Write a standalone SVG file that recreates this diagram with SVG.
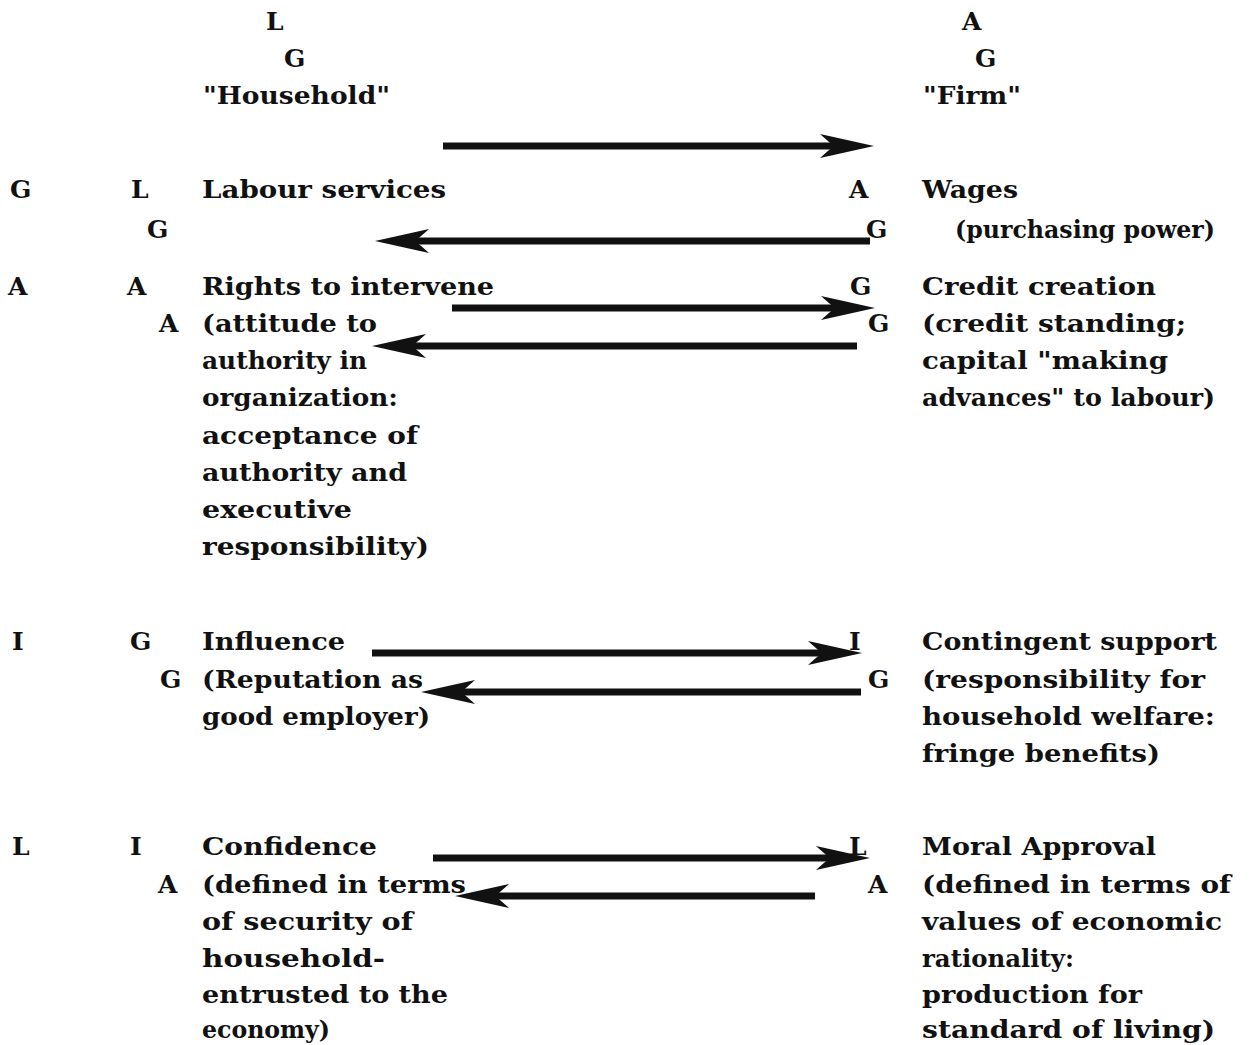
<svg xmlns="http://www.w3.org/2000/svg" width="1249" height="1045" viewBox="0 0 1249 1045">
<style>
text{font-family:"DejaVu Serif","Liberation Serif",serif;font-size:25px;font-weight:bold;fill:#111}
.ar{stroke:#111;stroke-width:7;fill:none;marker-end:url(#head)}
</style>
<defs>
<marker id="head" markerUnits="userSpaceOnUse" viewBox="-25 -15 65 30" markerWidth="65" markerHeight="30" refX="0" refY="0" orient="auto" overflow="visible">
<path d="M34,0 L-20,-12 Q-10,-3 -6,0 Q-10,3 -20,12 Z" fill="#111"/>
</marker>
</defs>
<rect width="1249" height="1045" fill="#fff"/>
<g id="household">
<text x="266" y="30">L</text>
<text x="284" y="67">G</text>
<text x="203" y="104" textLength="187" lengthAdjust="spacingAndGlyphs">"Household"</text>
</g>
<g id="firm">
<text x="962" y="30">A</text>
<text x="975" y="67">G</text>
<text x="923" y="104" textLength="98" lengthAdjust="spacingAndGlyphs">"Firm"</text>
</g>
<g id="row-labour">
<text x="10" y="198">G</text>
<text x="131" y="198">L</text>
<text x="147" y="238">G</text>
<text x="202" y="198" textLength="244" lengthAdjust="spacingAndGlyphs">Labour services</text>
</g>
<g id="row-wages">
<text x="849" y="198">A</text>
<text x="866" y="238">G</text>
<text x="922" y="198" textLength="96" lengthAdjust="spacingAndGlyphs">Wages</text>
<text x="955" y="238" textLength="260" lengthAdjust="spacingAndGlyphs">(purchasing power)</text>
</g>
<g id="row-rights">
<text x="8" y="295">A</text>
<text x="127" y="295">A</text>
<text x="159" y="332">A</text>
<text x="202" y="295" textLength="292" lengthAdjust="spacingAndGlyphs">Rights to intervene</text>
<text x="202" y="332" textLength="175" lengthAdjust="spacingAndGlyphs">(attitude to</text>
<text x="202" y="369" textLength="165" lengthAdjust="spacingAndGlyphs">authority in</text>
<text x="202" y="406" textLength="196" lengthAdjust="spacingAndGlyphs">organization:</text>
<text x="202" y="444" textLength="216" lengthAdjust="spacingAndGlyphs">acceptance of</text>
<text x="202" y="481" textLength="205" lengthAdjust="spacingAndGlyphs">authority and</text>
<text x="202" y="518" textLength="150" lengthAdjust="spacingAndGlyphs">executive</text>
<text x="202" y="555" textLength="227" lengthAdjust="spacingAndGlyphs">responsibility)</text>
</g>
<g id="row-credit">
<text x="850" y="295">G</text>
<text x="868" y="332">G</text>
<text x="922" y="295" textLength="234" lengthAdjust="spacingAndGlyphs">Credit creation</text>
<text x="922" y="332" textLength="264" lengthAdjust="spacingAndGlyphs">(credit standing;</text>
<text x="922" y="369" textLength="246" lengthAdjust="spacingAndGlyphs">capital "making</text>
<text x="922" y="406" textLength="293" lengthAdjust="spacingAndGlyphs">advances" to labour)</text>
</g>
<g id="row-influence">
<text x="12" y="650">I</text>
<text x="130" y="650">G</text>
<text x="160" y="688">G</text>
<text x="202" y="650" textLength="143" lengthAdjust="spacingAndGlyphs">Influence</text>
<text x="202" y="688" textLength="221" lengthAdjust="spacingAndGlyphs">(Reputation as</text>
<text x="202" y="725" textLength="228" lengthAdjust="spacingAndGlyphs">good employer)</text>
</g>
<g id="row-support">
<text x="849" y="650">I</text>
<text x="868" y="688">G</text>
<text x="922" y="650" textLength="295" lengthAdjust="spacingAndGlyphs">Contingent support</text>
<text x="922" y="688" textLength="283" lengthAdjust="spacingAndGlyphs">(responsibility for</text>
<text x="922" y="725" textLength="293" lengthAdjust="spacingAndGlyphs">household welfare:</text>
<text x="922" y="762" textLength="238" lengthAdjust="spacingAndGlyphs">fringe benefits)</text>
</g>
<g id="row-confidence">
<text x="12" y="855">L</text>
<text x="130" y="855">I</text>
<text x="158" y="893">A</text>
<text x="202" y="855" textLength="175" lengthAdjust="spacingAndGlyphs">Confidence</text>
<text x="202" y="893" textLength="264" lengthAdjust="spacingAndGlyphs">(defined in terms</text>
<text x="202" y="930" textLength="211" lengthAdjust="spacingAndGlyphs">of security of</text>
<text x="202" y="967" textLength="183" lengthAdjust="spacingAndGlyphs">household-</text>
<text x="202" y="1003" textLength="246" lengthAdjust="spacingAndGlyphs">entrusted to the</text>
<text x="202" y="1038" textLength="128" lengthAdjust="spacingAndGlyphs">economy)</text>
</g>
<g id="row-approval">
<text x="849" y="855">L</text>
<text x="868" y="893">A</text>
<text x="922" y="855" textLength="234" lengthAdjust="spacingAndGlyphs">Moral Approval</text>
<text x="922" y="893" textLength="309" lengthAdjust="spacingAndGlyphs">(defined in terms of</text>
<text x="922" y="930" textLength="300" lengthAdjust="spacingAndGlyphs">values of economic</text>
<text x="922" y="967" textLength="152" lengthAdjust="spacingAndGlyphs">rationality:</text>
<text x="922" y="1003" textLength="220" lengthAdjust="spacingAndGlyphs">production for</text>
<text x="922" y="1038" textLength="293" lengthAdjust="spacingAndGlyphs">standard of living)</text>
</g>
<g id="connectors">
<line class="ar" x1="443" y1="146" x2="840" y2="146"/>
<line class="ar" x1="870" y1="241" x2="409" y2="241"/>
<line class="ar" x1="452" y1="308" x2="841" y2="308"/>
<line class="ar" x1="857" y1="346" x2="406" y2="346"/>
<line class="ar" x1="372" y1="653" x2="828" y2="653"/>
<line class="ar" x1="861" y1="692" x2="455" y2="692"/>
<line class="ar" x1="433" y1="858" x2="836" y2="858"/>
<line class="ar" x1="815" y1="896" x2="489" y2="896"/>
</g>
</svg>
